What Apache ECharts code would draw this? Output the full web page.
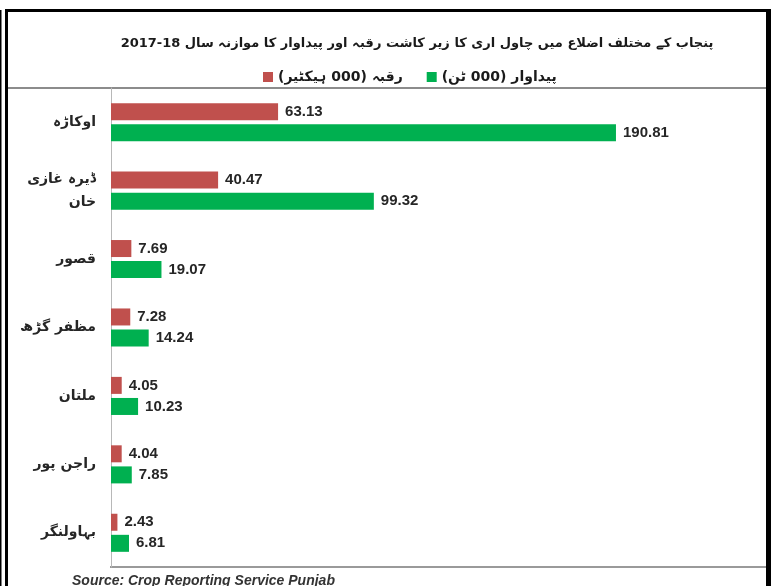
<!DOCTYPE html>
<html>
<head>
<meta charset="utf-8">
<script src="https://cdn.jsdelivr.net/npm/echarts@6/dist/echarts.min.js"></script>
<style>
  html, body { margin: 0; padding: 0; background: #fff; }
  #chart { width: 780px; height: 586px; direction: rtl; }
</style>
</head>
<body>
<div id="chart"></div>
<script>
// districts, top to bottom
const districts = ['اوکاڑہ', 'ڈیرہ غازی\nخان', 'قصور', 'مظفر گڑھ', 'ملتان', 'راجن پور', 'بہاولنگر']
// area (000 hectares)
const areaData = [63.13, 40.47, 7.69, 7.28, 4.05, 4.04, 2.43]
// production (000 tonnes)
const prodData = [190.81, 99.32, 19.07, 14.24, 10.23, 7.85, 6.81]

const areaName = 'رقبہ (000 ہیکٹیر)'
const prodName = 'پیداوار (000 ٹن)'

const chart = echarts.init(document.getElementById('chart'))

const labelStyle = {
  show: true,
  position: 'right',
  distance: 7,
  fontFamily: 'Liberation Sans',
  fontWeight: 'bold',
  fontSize: 15,
  color: '#262626'
}

chart.setOption({
  animation: false,
  backgroundColor: '#fff',
  title: {
    // LRM keeps the year range in left-to-right order
    text: 'پنجاب کے مختلف اضلاع میں چاول اری کا زیر کاشت رقبہ اور پیداوار کا موازنہ سال \u200E2017-18',
    left: 412,
    top: 32,
    textAlign: 'center',
    textStyle: {
      fontFamily: 'DejaVu Sans',
      fontWeight: 'bold',
      fontSize: 13,
      color: '#1a1a1a'
    }
  },
  legend: {
    data: [areaName, prodName],
    left: 258,
    top: 65,
    itemWidth: 10,
    itemHeight: 10,
    itemGap: 24,
    icon: 'rect',
    textStyle: {
      fontFamily: 'DejaVu Sans',
      fontWeight: 'bold',
      fontSize: 14,
      color: '#1a1a1a'
    }
  },
  grid: {
    left: 111,
    top: 88,
    width: 655,
    height: 479,
    containLabel: false
  },
  xAxis: {
    type: 'value',
    min: 0,
    max: 247.5,
    show: false
  },
  yAxis: {
    type: 'category',
    data: districts,
    inverse: true,
    axisLine: { show: true, lineStyle: { color: '#b8b8b8', width: 1 } },
    axisTick: { show: false },
    axisLabel: {
      margin: 15,
      fontFamily: 'DejaVu Sans',
      fontWeight: 'bold',
      fontSize: 14,
      lineHeight: 23,
      color: '#262626'
    }
  },
  series: [
    {
      name: areaName,
      type: 'bar',
      data: areaData,
      barWidth: 17,
      barGap: '24%',
      itemStyle: { color: '#c0504d' },
      label: labelStyle
    },
    {
      name: prodName,
      type: 'bar',
      data: prodData,
      barWidth: 17,
      barGap: '24%',
      itemStyle: { color: '#00b050' },
      label: labelStyle
    }
  ],
  graphic: [
    // outer frame
    { type: 'rect', shape: { x: 0, y: 10, width: 1.5, height: 580 }, style: { fill: '#000' } },
    { type: 'rect', shape: { x: 5, y: 9, width: 3, height: 580 }, style: { fill: '#000' } },
    { type: 'rect', shape: { x: 5, y: 9, width: 766, height: 3 }, style: { fill: '#000' } },
    { type: 'rect', shape: { x: 766, y: 9, width: 5, height: 580 }, style: { fill: '#000' } },
    // separator under legend and bottom line
    { type: 'rect', shape: { x: 8, y: 87, width: 758, height: 2 }, style: { fill: '#8c8c8c' } },
    { type: 'rect', shape: { x: 110, y: 566, width: 656, height: 2 }, style: { fill: '#9a9a9a' } },
    {
      type: 'text',
      left: 72,
      top: 574,
      style: {
        text: 'Source: Crop Reporting Service Punjab',
        fontFamily: 'Liberation Sans',
        fontWeight: 'bold',
        fontStyle: 'italic',
        fontSize: 14,
        fill: '#333'
      }
    }
  ]
})
</script>
</body>
</html>
